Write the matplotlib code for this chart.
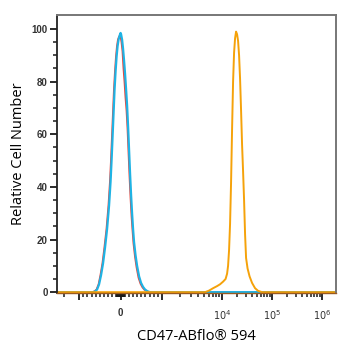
import numpy as np
import matplotlib
matplotlib.use("Agg")
import matplotlib.pyplot as plt
from matplotlib.ticker import FixedLocator, FixedFormatter

# histogram traces (fluorescence, relative count)
ctrl_x = [-2760, -680, -630, -580, -530, -485, -437, -390, -340, -292, -256, -232,
          -208, -184, -160, -135, -111, -87, -63, -39, -15, 0, 22, 46, 70, 94, 118,
          143, 167, 191, 215, 239, 263, 287, 311, 347, 384, 432, 480, 528, 576, 636,
          700, 2e6]
ctrl_y = [0, 0, 0.3, 1, 3, 6.5, 11, 17, 24, 33, 42, 50,
          59, 68, 77, 84, 89.5, 93.5, 96, 97, 97.5, 97, 95, 91.5, 85, 80, 74,
          69, 62, 53, 44, 36, 29, 23.5, 18.5, 13.5, 9.5, 5.5, 3.2, 1.8, 0.9, 0.3,
          0, 0]

blank_x = [-2760, -663, -615, -566, -518, -470, -422, -374, -325, -277, -241, -217,
           -193, -169, -145, -120, -96, -72, -48, -24, 0, 12, 36, 60, 84, 108,
           133, 157, 181, 205, 229, 253, 277, 301, 325, 361, 398, 446, 494, 542,
           590, 651, 711, 2e6]
blank_y = [0, 0, 0.3, 1, 3, 6.5, 11, 17, 24, 33, 42, 50,
           59, 68, 77, 84, 89.5, 93.5, 96, 97.5, 98.5, 98, 96, 92.5, 88, 83,
           77, 71, 63, 54, 45, 37, 30, 24, 19, 14, 10, 6, 3.5, 2,
           1, 0.3, 0, 0]

cd47_x = [-2760, 5210, 6070, 7080, 8250, 9260, 10480, 11750, 12590, 13180, 13800,
          14450, 15140, 15850, 16600, 17380, 18200, 19050, 19950, 20890, 21880,
          22910, 23990, 25120, 26300, 27540, 28840, 30200, 32360, 35480, 39810,
          45710, 52480, 63100, 2e6]
cd47_y = [0, 0, 0.6, 1.5, 2.3, 3, 4, 5, 7, 10, 16,
          26, 42, 62, 80, 91, 96.5, 99, 98, 95.5, 90,
          81, 69, 56, 46, 35, 22, 13, 9, 6, 3.5,
          1.5, 0.5, 0, 0]

major_ticks = [-1e3, 0, 1e3, 1e4, 1e5, 1e6]
major_labels = ["", "0", "", "$10^4$", "$10^5$", "$10^6$"]


# biexponential-style axis: linear within +/-1e3, log outside
S_PTS = [-6, -1, 1, 2, 7]
P_PTS = [-291.5, -41.5, 41.5, 101.5, 351.5]


def fwd(x):
    x = np.asarray(x, dtype=float)
    ax_ = np.abs(x)
    s = np.where(ax_ <= 1e3, x / 1e3,
                 np.sign(x) * (1 + np.log10(np.maximum(ax_, 1e3) / 1e3)))
    return np.interp(s, S_PTS, P_PTS)


def inv(p):
    p = np.asarray(p, dtype=float)
    s = np.interp(p, P_PTS, S_PTS)
    return np.where(np.abs(s) <= 1, s * 1e3,
                    np.sign(s) * 1e3 * 10 ** (np.maximum(np.abs(s), 1) - 1))


minor = []
for k in range(1, 10):
    minor += [k * 10, -k * 10, k * 100, -k * 100]
for dec in [1e3, 1e4, 1e5]:
    minor += [k * dec for k in range(2, 10)]
minor += [-2e3]

fig = plt.figure(figsize=(3.5, 3.5), dpi=100)
ax = fig.add_axes([0.163, 0.163, 0.797, 0.794])
ax.set_xscale("function", functions=(fwd, inv))

ax.plot(ctrl_x, ctrl_y, color="#e8453c", lw=1.3)
ax.plot(blank_x, blank_y, color="#1fb3e4", lw=1.6)
ax.plot(cd47_x, cd47_y, color="#f5a20a", lw=1.4)

ax.set_xlim(-2760, 1.9e6)
ax.set_ylim(-0.3, 105.3)

ax.xaxis.set_major_locator(FixedLocator(major_ticks))
ax.xaxis.set_major_formatter(FixedFormatter(major_labels))
ax.xaxis.set_minor_locator(FixedLocator(minor))
ax.set_yticks([0, 20, 40, 60, 80, 100])
ax.set_yticks(np.arange(0, 105, 5), minor=True)

ax.tick_params(axis="both", which="major", length=4.8, width=1.3, color="#1a1a1a",
               labelsize=7, labelcolor="#333333", pad=2)
ax.tick_params(axis="both", which="minor", length=2.8, width=1.1, color="#1a1a1a")
ax.tick_params(axis="x", which="major", pad=6)
for lab in ax.get_xticklabels() + ax.get_yticklabels():
    lab.set_family("Liberation Sans")
    lab.set_fontweight("bold")

ax.spines["left"].set_color("#222222")
ax.spines["left"].set_linewidth(1.3)
ax.spines["bottom"].set_color("#9a5a20")
ax.spines["bottom"].set_linewidth(1.0)
for side in ["top", "right"]:
    ax.spines[side].set_color("#777777")
    ax.spines[side].set_linewidth(1.4)

ax.set_ylabel("Relative Cell Number", family="Open Sans", fontsize=10.5, labelpad=4)
ax.set_xlabel("CD47-ABflo\u00ae 594", family="Open Sans", fontsize=10.5, labelpad=5)

fig.savefig("out.png", dpi=100)
